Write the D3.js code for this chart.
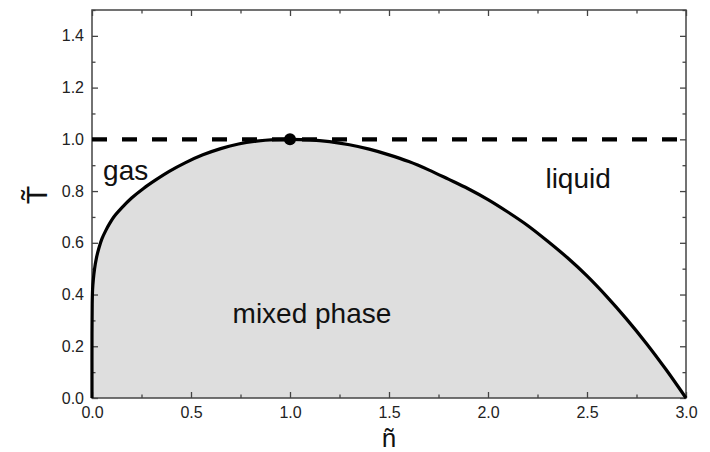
<!DOCTYPE html>
<html><head><meta charset="utf-8">
<script src="https://cdn.jsdelivr.net/npm/d3@7"></script>
<style>body{margin:0;background:#fff}svg{display:block}text{font-family:"Liberation Sans",Arial,sans-serif}</style>
</head><body>
<script>
// gas branch (n, T)
const gasN = [0, 0, 0.001, 0.003, 0.007, 0.013, 0.022, 0.035, 0.05, 0.07, 0.09, 0.11, 0.15, 0.2, 0.26, 0.32, 0.39, 0.47, 0.56, 0.65, 0.74, 0.83, 0.92, 1.0];
const gasT = [0, 0.25, 0.36, 0.42, 0.46, 0.5, 0.54, 0.58, 0.615, 0.648, 0.676, 0.70, 0.735, 0.773, 0.81, 0.842, 0.876, 0.909, 0.94, 0.964, 0.982, 0.993, 0.999, 1.0];
// liquid branch
const liqN = [1.1, 1.2, 1.3, 1.4, 1.5, 1.6, 1.7, 1.8, 1.9, 2.0, 2.1, 2.2, 2.3, 2.4, 2.5, 2.6, 2.7, 2.8, 2.9, 3.0];
const liqT = [0.998, 0.991, 0.979, 0.962, 0.940, 0.914, 0.882, 0.846, 0.809, 0.767, 0.719, 0.667, 0.607, 0.543, 0.472, 0.392, 0.305, 0.211, 0.109, 0];
const criticalPoint = {n: 1.0, T: 1.0};
const criticalT = 1.0;
const xTicks = [0, 0.5, 1.0, 1.5, 2.0, 2.5, 3.0];
const yTicks = [0, 0.2, 0.4, 0.6, 0.8, 1.0, 1.2, 1.4];
const labels = [{t: "gas", n: 0.056, T: 0.88}, {t: "liquid", n: 2.29, T: 0.85}, {t: "mixed phase", n: 0.71, T: 0.33}];

const W = 710, H = 452;
const m = {l: 92, r: 24, t: 10, b: 54};
const svg = d3.select("body").append("svg").attr("width", W).attr("height", H);
const x = d3.scaleLinear().domain([0, 3]).range([m.l, W - m.r]);
const y = d3.scaleLinear().domain([0, 1.5]).range([H - m.b, m.t]);

const pts = gasN.map((n, i) => [n, gasT[i]]).concat(liqN.map((n, i) => [n, liqT[i]]));
const curve = d3.curveCatmullRom.alpha(0.5);

const area = d3.area().x(d => x(d[0])).y0(y(0)).y1(d => y(d[1])).curve(curve);
svg.append("path").datum(pts).attr("d", area).attr("fill", "#dedede");

// ticks (inward, all sides)
const tickCol = "#444";
function ticks(axisGen, transform, major, minorStep, dom) {
  const minor = d3.range(dom[0], dom[1] + 1e-9, minorStep).filter(v => !major.some(t => Math.abs(t - v) < 1e-9));
  const g = svg.append("g").attr("transform", transform);
  g.call(axisGen.tickValues(major).tickSize(6).tickFormat(""));
  const g2 = svg.append("g").attr("transform", transform);
  g2.call(axisGen.tickValues(minor).tickSize(3.5).tickFormat(""));
  [g, g2].forEach(gg => { gg.select(".domain").remove(); gg.selectAll("line").attr("stroke", tickCol).attr("stroke-width", 1.3); });
}
ticks(d3.axisTop(x), `translate(0,${y(0)})`, xTicks, 0.25, [0, 3]);
ticks(d3.axisBottom(x), `translate(0,${y(1.5)})`, xTicks, 0.25, [0, 3]);
ticks(d3.axisRight(y), `translate(${x(0)},0)`, yTicks, 0.1, [0, 1.5]);
ticks(d3.axisLeft(y), `translate(${x(3)},0)`, yTicks, 0.1, [0, 1.5]);

// tick labels
const xl = svg.append("g").attr("transform", `translate(0,${y(0)})`).call(d3.axisBottom(x).tickValues(xTicks).tickSize(0).tickPadding(9).tickFormat(d3.format(".1f")));
const yl = svg.append("g").attr("transform", `translate(${x(0)},0)`).call(d3.axisLeft(y).tickValues(yTicks).tickSize(0).tickPadding(8).tickFormat(d3.format(".1f")));
[xl, yl].forEach(g => { g.select(".domain").remove(); g.attr("font-size", 16); g.selectAll("text").attr("font-size", 16).attr("fill", "#222").style("font-family", '"Liberation Sans",Arial,sans-serif'); });

// frame
svg.append("rect").attr("x", x(0)).attr("y", y(1.5)).attr("width", x(3) - x(0)).attr("height", y(0) - y(1.5))
  .attr("fill", "none").attr("stroke", "#444").attr("stroke-width", 1.5);

// coexistence curve
const line = d3.line().x(d => x(d[0])).y(d => y(d[1])).curve(curve);
svg.append("path").datum(pts).attr("d", line).attr("fill", "none").attr("stroke", "#000").attr("stroke-width", 3.2);

// critical temperature dashed line
svg.append("line").attr("x1", x(0)).attr("x2", x(3)).attr("y1", y(criticalT)).attr("y2", y(criticalT))
  .attr("stroke", "#000").attr("stroke-width", 4.2).attr("stroke-dasharray", "15,15");

svg.append("circle").attr("cx", x(criticalPoint.n)).attr("cy", y(criticalPoint.T)).attr("r", 6).attr("fill", "#000");

// annotations
labels.forEach(l => svg.append("text").attr("x", x(l.n)).attr("y", y(l.T) + 10).attr("font-size", 28).attr("fill", "#111").text(l.t));

// axis titles
svg.append("text").attr("x", x(1.5)).attr("y", 447).attr("text-anchor", "middle").attr("font-size", 26).attr("fill", "#111").text("ñ");
svg.append("text").attr("transform", `translate(47,195) rotate(-90)`).attr("text-anchor", "middle").attr("font-size", 30).attr("fill", "#111").text("T\u0303");
</script>
</body></html>
